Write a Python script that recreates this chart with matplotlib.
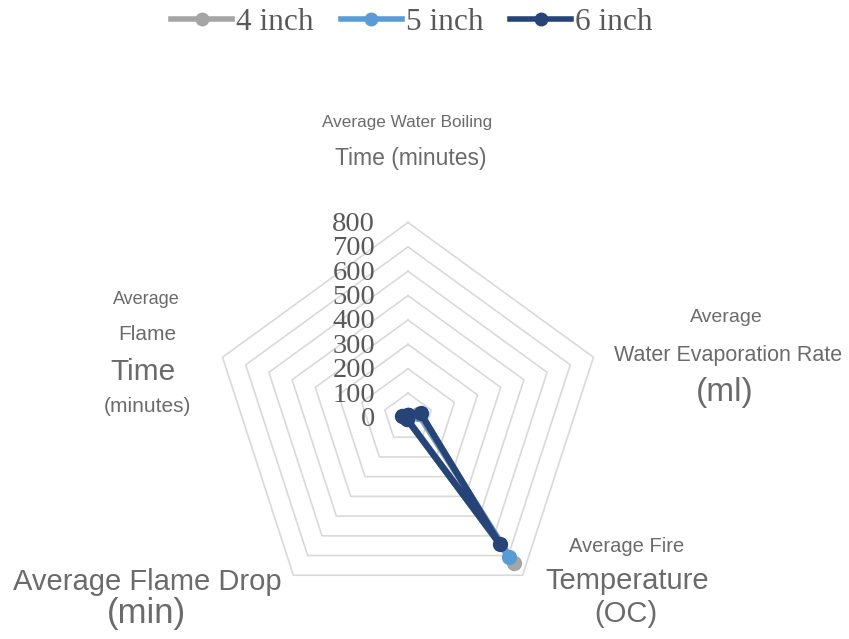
import numpy as np
import matplotlib.pyplot as plt
import matplotlib.transforms as mtransforms

# ---- data ----
categories = [
    "Average Water Boiling Time (minutes)",
    "Average Water Evaporation Rate (ml)",
    "Average Fire Temperature (OC)",
    "Average Flame Drop (min)",
    "Average Flame Time (minutes)",
]
series_names = ["4 inch", "5 inch", "6 inch"]
values_4in = [10, 45, 740, 6, 20]
values_5in = [11, 50, 705, 7, 22]
values_6in = [12, 55, 640, 8, 25]
ring_ticks = [0, 100, 200, 300, 400, 500, 600, 700, 800]

series_values = [values_4in, values_5in, values_6in]
series_colors = ["#A5A5A5", "#5B9BD5", "#264478"]

W, H = 849, 639
fig = plt.figure(figsize=(W / 100, H / 100), dpi=100)
fig.patch.set_facecolor("white")


def fx(x):
    return x / W


def fy(y):
    return 1 - y / H


# polar axes centred on the radar
cx, cy, R = 408, 417.5, 195
ax = fig.add_axes([fx(cx - R), fy(cy + R), 2 * R / W, 2 * R / H], projection="polar")
ax.set_theta_zero_location("N")
ax.set_theta_direction(-1)
ax.set_ylim(0, ring_ticks[-1])
ax.set_axis_off()

n = len(categories)
angles = np.linspace(0, 2 * np.pi, n, endpoint=False)
closed = np.concatenate([angles, angles[:1]])

# pentagon grid rings
for r in ring_ticks[1:]:
    ax.plot(closed, [r] * (n + 1), color="#D9D9D9", lw=1.2, zorder=1, clip_on=False)

# radial value labels to the left of the top spoke
lab_tr = ax.transData + mtransforms.ScaledTranslation(-33 / 100, -2 / 100, fig.dpi_scale_trans)
for r in ring_ticks:
    ax.text(0, r, f"{r}", transform=lab_tr, ha="right", va="center",
            fontsize=20.5, family="Liberation Serif", color="#595959", zorder=3)

# series polygons
handles = []
for name, vals, col in zip(series_names, series_values, series_colors):
    v = list(vals) + [vals[0]]
    (ln,) = ax.plot(closed, v, color=col, lw=4.6, marker="o", markersize=10,
                    markerfacecolor=col, markeredgecolor=col, clip_on=False,
                    zorder=4, solid_joinstyle="round", label=name)
    handles.append(ln)

# category labels
txt = "#6B6B6B"
sans = "Liberation Sans"
label_lines = [
    ("Average Water Boiling", 407, 122, 12.3),
    ("Time (minutes)", 411, 158, 16.5),
    ("Average", 726, 317, 14),
    ("Water Evaporation Rate", 728, 355, 15.5),
    ("(ml)", 725, 392, 24),
    ("Average Fire", 627, 546, 14.5),
    ("Temperature", 627, 581, 21),
    ("(OC)", 626, 614, 21),
    ("Average Flame Drop", 147, 582, 21),
    ("(min)", 146, 613, 25),
    ("Average", 146, 299, 13),
    ("Flame", 147, 334, 15),
    ("Time", 143, 372, 21.5),
    ("(minutes)", 147, 406, 15),
]
for s, x, y, fs in label_lines:
    fig.text(fx(x), fy(y), s, ha="center", va="center", fontsize=fs,
             family=sans, color=txt)

# legend
leg = fig.legend(handles=handles, labels=series_names, loc="center",
                 bbox_to_anchor=(fx(412), fy(22)), ncol=3, frameon=False,
                 prop={"family": "Liberation Serif", "size": 22.5},
                 handlelength=1.95, handletextpad=0.13, columnspacing=0.86)
for t in leg.get_texts():
    t.set_color("#595959")
for h in leg.legend_handles:
    h.set_linewidth(4)
    h.set_markersize(9)

fig.savefig("out.png", dpi=100, facecolor="white")
